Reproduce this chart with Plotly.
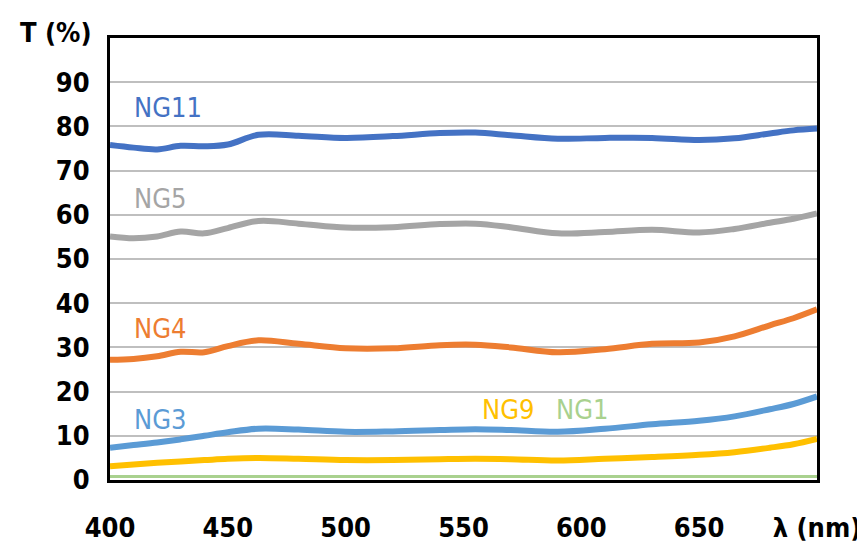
import plotly.graph_objects as go

wavelength = [400, 410, 420, 430, 440, 450, 463, 480, 500, 520, 540, 555, 570, 590, 610, 630, 650, 665, 680, 690, 700]
ng11 = [75.8, 75.2, 74.8, 75.6, 75.5, 75.9, 78.1, 77.9, 77.4, 77.8, 78.5, 78.6, 78.0, 77.2, 77.4, 77.4, 76.9, 77.3, 78.4, 79.1, 79.5]
ng5 = [55.1, 54.7, 55.1, 56.2, 55.8, 57.0, 58.6, 58.0, 57.1, 57.2, 57.9, 58.0, 57.2, 55.8, 56.1, 56.6, 56.0, 56.8, 58.2, 59.1, 60.3]
ng4 = [27.2, 27.4, 28.0, 29.0, 28.9, 30.3, 31.6, 30.8, 29.8, 29.8, 30.5, 30.6, 30.0, 28.9, 29.6, 30.8, 31.1, 32.5, 35.0, 36.6, 38.6]
ng3 = [7.3, 7.9, 8.5, 9.2, 10.0, 10.8, 11.6, 11.4, 10.9, 11.0, 11.3, 11.5, 11.3, 10.9, 11.6, 12.6, 13.4, 14.4, 16.0, 17.2, 18.9]
ng9 = [3.1, 3.5, 3.9, 4.2, 4.5, 4.8, 5.0, 4.8, 4.5, 4.5, 4.7, 4.8, 4.7, 4.4, 4.8, 5.2, 5.7, 6.3, 7.3, 8.1, 9.3]
ng1 = [0.8, 0.8, 0.8, 0.8, 0.8, 0.8, 0.8, 0.8, 0.8, 0.8, 0.8, 0.8, 0.8, 0.8, 0.8, 0.8, 0.8, 0.8, 0.8, 0.8, 0.8]

x_tick_vals = [400, 450, 500, 550, 600, 650, 700]
x_tick_text = ["400", "450", "500", "550", "600", "650", "λ (nm)"]
y_tick_vals = [0, 10, 20, 30, 40, 50, 60, 70, 80, 90]

series = [
    ("NG11", ng11, "#4472C4", 6, 409.5, 84.3),
    ("NG5", ng5, "#A5A5A5", 6, 409.5, 63.8),
    ("NG4", ng4, "#ED7D31", 6, 409.5, 34.3),
    ("NG3", ng3, "#5B9BD5", 6, 409.5, 13.8),
    ("NG9", ng9, "#FFC000", 6, 557.0, 16.0),
    ("NG1", ng1, "#A9D18E", 3, 588.5, 16.0),
]

BOLD_FONT = "DejaVu Sans Condensed, Liberation Sans Narrow, sans-serif"
LABEL_FONT = "Liberation Sans Narrow, DejaVu Sans Condensed, sans-serif"

fig = go.Figure()
annotations = []
for name, vals, color, width, lx, ly in series:
    fig.add_trace(go.Scatter(
        x=wavelength, y=vals, mode="lines", name=name,
        line=dict(color=color, width=width, shape="spline", smoothing=1.0),
        showlegend=False, hoverinfo="skip",
    ))
    annotations.append(dict(
        x=lx, y=ly, xref="x", yref="y", text=name, showarrow=False,
        xanchor="left", yanchor="middle",
        font=dict(family=LABEL_FONT, size=27, color=color),
    ))

annotations.append(dict(
    x=-0.022, y=1.013, xref="paper", yref="paper", text="T (%)", showarrow=False,
    xanchor="right", yanchor="middle",
    font=dict(family=BOLD_FONT, size=27, color="black", weight="bold"),
))

fig.update_layout(
    width=865, height=547,
    margin=dict(l=102, r=45, t=30, b=60),
    paper_bgcolor="white", plot_bgcolor="white",
    annotations=annotations,
)
fig.update_xaxes(
    range=[400, 700], tickvals=x_tick_vals, ticktext=x_tick_text,
    showgrid=False, zeroline=False,
    showline=True, linecolor="black", linewidth=3, mirror=True,
    ticks="", ticklabelstandoff=22,
    tickfont=dict(family=BOLD_FONT, size=27, color="black", weight="bold"),
)
fig.update_yaxes(
    range=[0, 100], tickvals=y_tick_vals,
    showgrid=True, gridcolor="#BFBFBF", gridwidth=1.5, zeroline=False,
    showline=True, linecolor="black", linewidth=3, mirror=True,
    ticks="", ticklabelstandoff=12,
    tickfont=dict(family=BOLD_FONT, size=27, color="black", weight="bold"),
)

fig.write_html("out.html")
